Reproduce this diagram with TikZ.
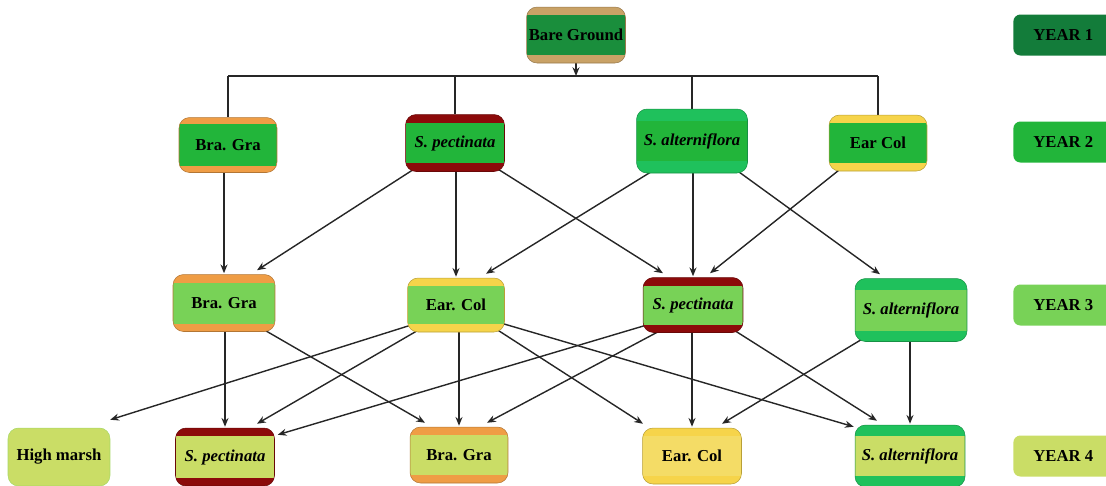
\documentclass[tikz,border=0pt]{standalone}
\usepackage{fontspec}
\setmainfont{Liberation Serif}
\usepackage{xcolor}
\usetikzlibrary{arrows.meta, calc, backgrounds}
\definecolor{yrOne}{HTML}{137C3A}
\definecolor{yrTwo}{HTML}{22B53A}
\definecolor{yrThree}{HTML}{78D257}
\definecolor{yrFour}{HTML}{CADD66}
\definecolor{bareFill}{HTML}{1A8E3C}
\definecolor{earFill}{HTML}{F4DC66}
\definecolor{bandTan}{HTML}{C9A266}
\definecolor{bandOrange}{HTML}{EF9D45}
\definecolor{bandRed}{HTML}{8C0A0A}
\definecolor{bandGreen}{HTML}{1FC15C}
\definecolor{bandYellow}{HTML}{F6D44A}
\definecolor{marshLine}{HTML}{A6D865}
\tikzset{
  band/.store in=\bandw, band=0.16cm,
  stage/.style 2 args={draw=#2!75!black, line width=0.3pt, fill=#2,
    rounded corners=6pt, inner sep=0pt,
    font=\bfseries\fontsize{9.5}{11}\selectfont,
    path picture={\fill[#1, sharp corners]
      ([yshift=-\bandw]path picture bounding box.north west) rectangle
      ([yshift=\bandw]path picture bounding box.south east);}},
  yearbox/.style={fill=#1, rounded corners=4pt, anchor=west, inner sep=0pt,
    minimum width=2cm, minimum height=0.82cm,
    font=\bfseries\fontsize{9.5}{11}\selectfont},
  link/.style={line width=0.8pt, black!85},
  arr/.style={link, -{Stealth[length=5pt,width=4pt]}}
}
\begin{document}
\begin{tikzpicture}[x=0.02cm, y=-0.02cm]
  \useasboundingbox (0,0) rectangle (1106,485);
  % year 1
  \node[stage={bareFill}{bandTan}, minimum width=1.98cm, minimum height=1.12cm] (bare) at (576,35) {Bare Ground};
  % year 2
  \node[stage={yrTwo}{bandOrange}, band=0.13cm, minimum width=1.96cm, minimum height=1.1cm] (bg2) at (228,145) {Bra. Gra};
  \node[stage={yrTwo}{bandRed}, band=0.17cm, minimum width=1.98cm, minimum height=1.14cm] (sp2) at (455,143) {\itshape S. pectinata};
  \node[stage={yrTwo}{bandGreen}, band=0.24cm, minimum width=2.22cm, minimum height=1.28cm] (sa2) at (692,141) {\itshape S. alterniflora};
  \node[stage={yrTwo}{bandYellow}, minimum width=1.96cm, minimum height=1.12cm] (ec2) at (878,143) {Ear Col};
  % year 3
  \node[stage={yrThree}{bandOrange}, minimum width=2.04cm, minimum height=1.14cm] (bg3) at (224,303) {Bra. Gra};
  \node[stage={yrThree}{bandYellow}, minimum width=1.94cm, minimum height=1.08cm] (ec3) at (456,305) {Ear. Col};
  \node[stage={yrThree}{bandRed}, minimum width=2cm, minimum height=1.1cm] (sp3) at (693,305) {\itshape S. pectinata};
  \node[stage={yrThree}{bandGreen}, band=0.22cm, minimum width=2.24cm, minimum height=1.26cm] (sa3) at (911,310) {\itshape S. alterniflora};
  % year 4
  \node[draw=marshLine, line width=0.3pt, fill=yrFour, rounded corners=6pt, minimum width=2.04cm, minimum height=1.16cm,
        font=\bfseries\fontsize{9.5}{11}\selectfont] (hm4) at (59,457) {High marsh};
  \node[stage={yrFour}{bandRed}, minimum width=1.98cm, minimum height=1.16cm] (sp4) at (225,457) {\itshape S. pectinata};
  \node[stage={yrFour}{bandOrange}, minimum width=1.96cm, minimum height=1.12cm] (bg4) at (459,455) {Bra. Gra};
  \node[stage={earFill}{bandYellow}, minimum width=1.98cm, minimum height=1.12cm] (ec4) at (692,456) {Ear. Col};
  \node[stage={yrFour}{bandGreen}, band=0.22cm, minimum width=2.2cm, minimum height=1.24cm] (sa4) at (910,456) {\itshape S. alterniflora};
  % year labels
  \node[yearbox=yrOne] (yr1) at (1013,35) {YEAR 1};
  \node[yearbox=yrTwo] (yr2) at (1013,142) {YEAR 2};
  \node[yearbox=yrThree] (yr3) at (1013,305) {YEAR 3};
  \node[yearbox=yrFour] (yr4) at (1013,456) {YEAR 4};
  \begin{scope}[on background layer]
    \coordinate (split) at (576,76);
    \draw[arr] (bare.south) -- (split);
    \draw[link] (bg2.north |- split) -- (ec2.north |- split);
    \foreach \n in {bg2,sp2,sa2,ec2}
      \draw[link] (\n.north |- split) -- (\n.north);
    % straight down
    \foreach \a/\b in {bg2/bg3, sp2/ec3, sa2/sp3, bg3/sp4, ec3/bg4, sp3/ec4, sa3/sa4}
      \draw[arr] (\b.north |- \a.south) -- ([yshift=0.02cm]\b.north);
    % slanted
    \foreach \a/\ax/\b/\bx in {sp2/-42/bg3/33, sp2/44/sp3/-30, sa2/-40/ec3/30,
                                sa2/46/sa3/-31, ec2/-38/sp3/17,
                                bg3/40/bg4/-34, ec3/-38/sp4/32, ec3/42/ec4/-49,
                                sp3/-33/bg4/28, sp3/42/sa4/-33, sa3/-50/ec4/30}
      \draw[arr] ($(\a.south)+(\ax,-2)$) -- ($(\b.north)+(\bx,-4)$);
    \draw[arr] ($(ec3.west)+(4,20)$) -- ($(hm4.north east)+(0,-8)$);
    \draw[arr] ($(ec3.east)+(-4,18)$) -- ($(sa4.north west)+(-1,2)$);
    \draw[arr] ($(sp3.west)+(4,20)$) -- ($(sp4.north east)+(3,7)$);
  \end{scope}
\end{tikzpicture}
\end{document}
